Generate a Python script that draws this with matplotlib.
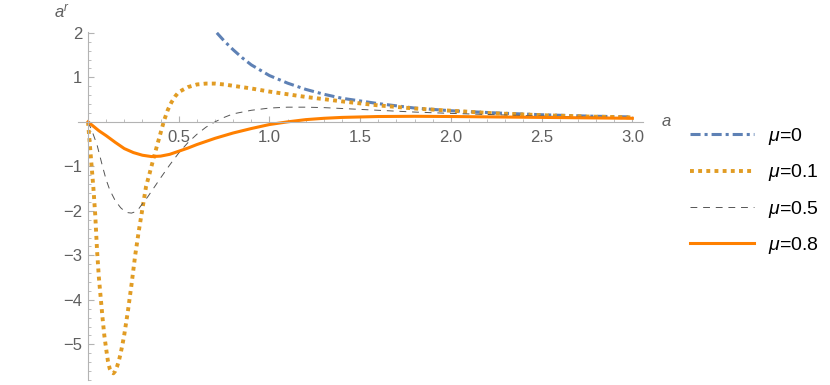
import matplotlib.pyplot as plt
from matplotlib.ticker import MultipleLocator, FixedLocator

plt.rcParams['font.family'] = ['Liberation Sans', 'DejaVu Sans']
plt.rcParams['mathtext.fontset'] = 'custom'
plt.rcParams['mathtext.it'] = 'Liberation Sans:italic'
plt.rcParams['mathtext.rm'] = 'Liberation Sans'

# mu = 0
a0 = [0.71, 0.75, 0.8, 0.85, 0.9, 1.0, 1.1, 1.2, 1.3, 1.4, 1.6, 1.8, 2.0, 2.25, 2.5, 2.75, 3.0]
r0 = [2.0, 1.82, 1.62, 1.44, 1.28, 1.04, 0.87, 0.73, 0.62, 0.53, 0.41, 0.31, 0.25, 0.20, 0.16, 0.13, 0.11]

# mu = 0.1
a1 = [0, 0.01, 0.02, 0.03, 0.04, 0.05, 0.06, 0.07, 0.08, 0.09, 0.10, 0.11, 0.12, 0.13, 0.14,
      0.15, 0.16, 0.17, 0.18, 0.19, 0.20, 0.22, 0.24, 0.26, 0.28, 0.30, 0.32, 0.34, 0.36, 0.38,
      0.40, 0.42, 0.44, 0.46, 0.48, 0.50, 0.55, 0.60, 0.65, 0.70, 0.75, 0.80, 0.9, 1.0, 1.1,
      1.2, 1.4, 1.6, 1.8, 2.0, 2.25, 2.5, 2.75, 3.0]
r1 = [0, -0.5, -1.0, -1.5, -2.1, -2.9, -3.5, -3.95, -4.4, -4.8, -5.1, -5.38, -5.55, -5.63, -5.65,
      -5.6, -5.5, -5.37, -5.2, -5.0, -4.78, -4.25, -3.65, -3.0, -2.45, -1.95, -1.45, -1.15, -0.84, -0.54,
      -0.25, 0.04, 0.27, 0.44, 0.57, 0.67, 0.78, 0.84, 0.86, 0.86, 0.84, 0.81, 0.75, 0.68, 0.62,
      0.56, 0.46, 0.37, 0.30, 0.25, 0.19, 0.15, 0.12, 0.10]

# mu = 0.5
a5 = [0, 0.02, 0.05, 0.08, 0.1, 0.12, 0.15, 0.18, 0.2, 0.22, 0.24, 0.26, 0.28, 0.3, 0.33, 0.36,
      0.4, 0.45, 0.5, 0.55, 0.6, 0.65, 0.7, 0.75, 0.8, 0.9, 1.0, 1.1, 1.2, 1.3, 1.4, 1.6, 1.8,
      2.0, 2.25, 2.5, 2.75, 3.0]
r5 = [0, -0.18, -0.52, -1.0, -1.3, -1.53, -1.77, -1.93, -2.0, -2.04, -2.05, -2.02, -1.95, -1.84, -1.68, -1.5,
      -1.26, -0.97, -0.7, -0.47, -0.28, -0.12, 0.0, 0.1, 0.18, 0.26, 0.31, 0.33, 0.33, 0.32, 0.30, 0.26, 0.22,
      0.19, 0.16, 0.13, 0.11, 0.09]

# mu = 0.8
a8 = [0, 0.03, 0.06, 0.1, 0.15, 0.2, 0.25, 0.3, 0.35, 0.4, 0.45, 0.5, 0.55, 0.6, 0.65, 0.7, 0.75,
      0.8, 0.9, 1.0, 1.1, 1.2, 1.3, 1.4, 1.6, 1.8, 2.0, 2.25, 2.5, 2.75, 3.0]
r8 = [0, -0.1, -0.2, -0.31, -0.46, -0.6, -0.69, -0.75, -0.78, -0.77, -0.73, -0.66, -0.59, -0.51, -0.44, -0.37, -0.31,
      -0.25, -0.15, -0.06, 0.0, 0.05, 0.08, 0.10, 0.12, 0.125, 0.12, 0.11, 0.10, 0.09, 0.08]

fig = plt.figure(figsize=(8.3, 3.85), dpi=100)
ax = fig.add_axes([0.094, 0.013, 0.681, 0.904])

ax.plot(a0, r0, color='#5E81B5', lw=2.2, dashes=(3.3, 1.3, 1, 1.3), label=r'$\mu$=0')
ax.plot(a1, r1, color='#E19C24', lw=2.8, dashes=(1, 1.1), label=r'$\mu$=0.1')
ax.plot(a5, r5, color='#555555', lw=0.7, dashes=(7, 6), label=r'$\mu$=0.5')
ax.plot(a8, r8, color='#FF8000', lw=2.2, label=r'$\mu$=0.8')

ax.set_xlim(-0.055, 3.06)
ax.set_ylim(-5.8, 2.02)

for s in ['top', 'right']:
    ax.spines[s].set_visible(False)
ax.spines['left'].set_position(('data', 0))
ax.spines['bottom'].set_position(('data', 0))
ax.spines['left'].set_color('#b3b3b3')
ax.spines['bottom'].set_color('#b3b3b3')

ax.xaxis.set_major_locator(FixedLocator([0.5, 1.0, 1.5, 2.0, 2.5, 3.0]))
ax.xaxis.set_minor_locator(MultipleLocator(0.1))
ax.yaxis.set_major_locator(FixedLocator([-5, -4, -3, -2, -1, 1, 2]))
ax.yaxis.set_minor_locator(MultipleLocator(0.2))
ax.set_xticklabels(['0.5', '1.0', '1.5', '2.0', '2.5', '3.0'])
ax.set_yticklabels(['\u22125', '\u22124', '\u22123', '\u22122', '\u22121', '1', '2'])
ax.tick_params(which='both', direction='in', colors='#b3b3b3', labelcolor='#5f5f5f', labelsize=12)
ax.tick_params(axis='x', which='major', length=4.5, width=0.8, pad=6)
ax.tick_params(axis='x', which='minor', length=2.5, width=0.6)
ax.tick_params(axis='y', which='major', length=4, width=0.8, pad=4)
ax.tick_params(axis='y', which='minor', length=2.5, width=0.6)

fig.text(661 / 830, 1 - 122 / 385, r'$a$', fontsize=12, color='#5f5f5f', ha='left', va='center')
fig.text(54 / 830, 1 - 12 / 385, r'$a^r$', fontsize=12, color='#5f5f5f', ha='left', va='center')

fig.legend(loc='center left', bbox_to_anchor=(672 / 830, 1 - 191 / 385), frameon=False,
           fontsize=14, handlelength=3.3, handletextpad=0.75, labelspacing=0.78)

fig.savefig('out.png', dpi=100)
